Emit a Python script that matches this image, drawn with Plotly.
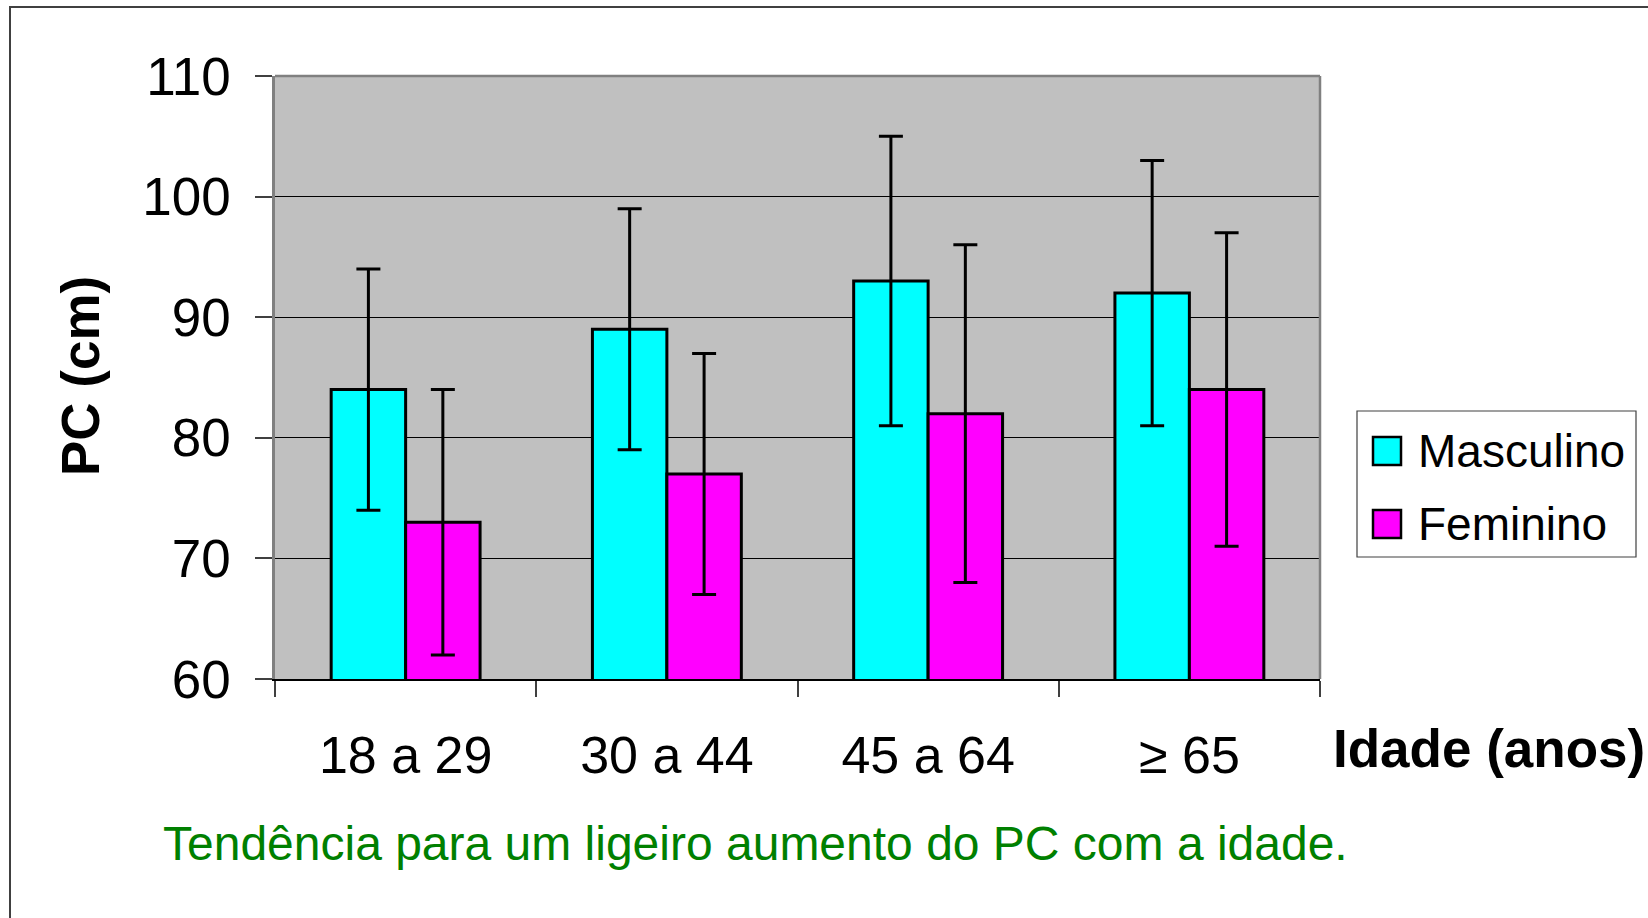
import plotly.graph_objects as go

categories = ["18 a 29", "30 a 44", "45 a 64", "≥ 65"]
masc_values = [84, 89, 93, 92]
masc_err = [10, 10, 12, 11]
fem_values = [73, 77, 82, 84]
fem_err = [11, 10, 14, 13]
series_names = ["Masculino", "Feminino"]
y_ticks = [60, 70, 80, 90, 100, 110]

FONT = "Liberation Sans, Arial, sans-serif"
CYAN = "#00FFFF"
MAGENTA = "#FF00FF"

fig = go.Figure()
for name, vals, errs, col in [(series_names[0], masc_values, masc_err, CYAN),
                              (series_names[1], fem_values, fem_err, MAGENTA)]:
    fig.add_trace(go.Bar(
        x=categories, y=vals, name=name,
        marker=dict(color=col, line=dict(color="black", width=3)),
        error_y=dict(type="data", array=errs, visible=True,
                     color="black", thickness=3, width=12),
        showlegend=False,
    ))

W, H = 1648, 918
L, R, T, B = 275, 1320, 76, 679
pw, ph = R - L, B - T

def px(x):
    return (x - L) / pw

def py(y):
    return (B - y) / ph

shapes = [
    # outer border
    dict(type="rect", xref="paper", yref="paper", x0=px(10), x1=px(1700), y0=py(7), y1=py(1000),
         line=dict(color="#404040", width=2), fillcolor="rgba(0,0,0,0)", layer="below"),
    # top and right frame
    dict(type="line", xref="paper", yref="paper", x0=0, x1=1, y0=1, y1=1,
         line=dict(color="#808080", width=2.5)),
    dict(type="line", xref="paper", yref="paper", x0=1, x1=1, y0=0, y1=1,
         line=dict(color="#808080", width=2.5)),
    # legend box
    dict(type="rect", xref="paper", yref="paper", x0=px(1357), x1=px(1636), y0=py(411), y1=py(557),
         line=dict(color="#404040", width=1.2), fillcolor="white"),
]
annotations = []
legend_rows = [(series_names[0], CYAN, 451), (series_names[1], MAGENTA, 524)]
for name, col, yc in legend_rows:
    shapes.append(dict(type="rect", xref="paper", yref="paper",
                       x0=px(1373), x1=px(1401), y0=py(yc - 14), y1=py(yc + 14),
                       line=dict(color="black", width=2.5), fillcolor=col))
    annotations.append(dict(text=name, xref="paper", yref="paper", x=px(1416), y=py(yc),
                            xanchor="left", yanchor="middle", showarrow=False,
                            font=dict(family=FONT, size=46, color="black")))

annotations += [
    dict(text="<b>PC (cm)</b>", xref="paper", yref="paper", x=px(80), y=py(376),
         textangle=-90, xanchor="center", yanchor="middle", showarrow=False,
         font=dict(family=FONT, size=53, color="black")),
    dict(text="<b>Idade (anos)</b>", xref="paper", yref="paper", x=px(1331), y=py(748),
         xanchor="left", yanchor="middle", showarrow=False,
         font=dict(family=FONT, size=53, color="black")),
    dict(text="Tendência para um ligeiro aumento do PC com a idade.", xref="paper", yref="paper",
         x=px(161), y=py(843), xanchor="left", yanchor="middle", showarrow=False,
         font=dict(family=FONT, size=48, color="#008000")),
]

fig.update_layout(
    width=W, height=H,
    margin=dict(l=L, r=W - R, t=T, b=H - B, pad=0),
    paper_bgcolor="white", plot_bgcolor="#C0C0C0",
    barmode="group", bargap=0.43, bargroupgap=0,
    showlegend=False,
    shapes=shapes, annotations=annotations,
    font=dict(family=FONT, color="black"),
)
fig.update_xaxes(
    type="category", tickson="boundaries", ticks="outside", ticklen=16, tickwidth=1.5,
    tickcolor="#404040", showline=True, linecolor="black", linewidth=2,
    showgrid=False, tickfont=dict(family=FONT, size=52, color="black"),
    ticklabelstandoff=30,
)
fig.update_yaxes(
    range=[60, 110], tickvals=y_ticks, ticks="outside", ticklen=17, tickwidth=1.5,
    tickcolor="#404040", showline=True, linecolor="#808080", linewidth=2.5,
    showgrid=True, gridcolor="black", gridwidth=1, zeroline=False,
    tickfont=dict(family=FONT, size=53, color="black"), ticklabelstandoff=14,
)

fig.write_html("out.html", config={"displayModeBar": False},
               post_script="document.body.style.margin='0px';")
